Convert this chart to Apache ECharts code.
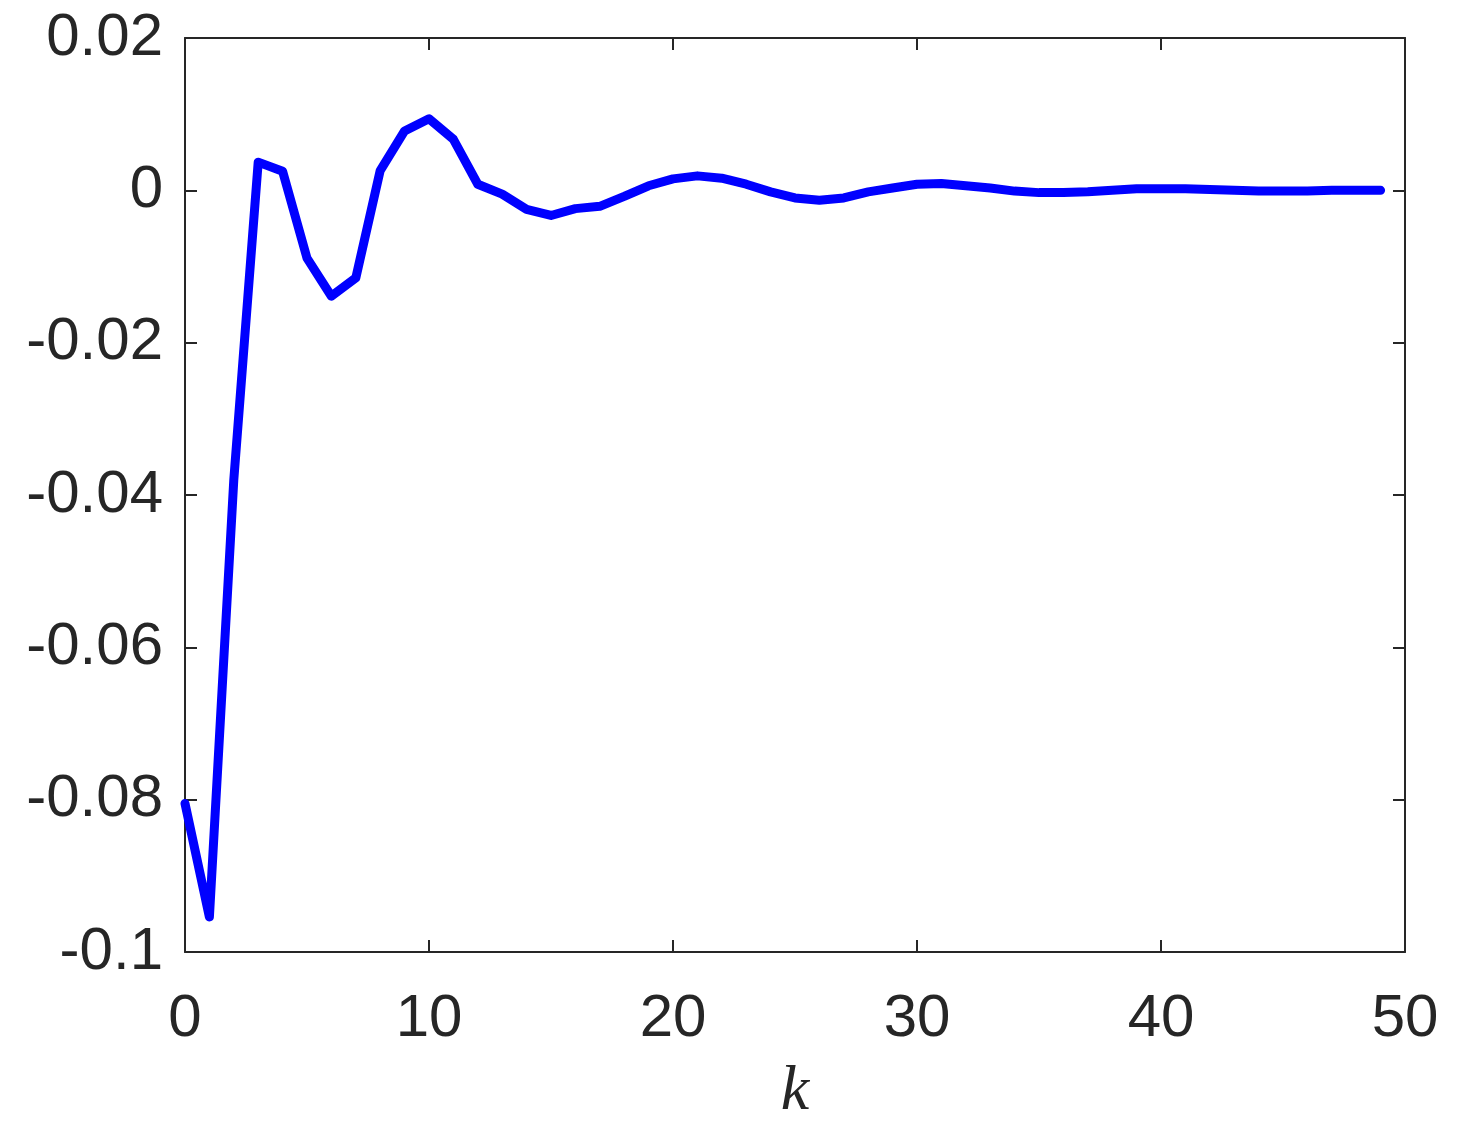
<!DOCTYPE html>
<html>
<head>
<meta charset="utf-8">
<script src="https://cdn.jsdelivr.net/npm/echarts@6/dist/echarts.min.js"></script>
<style>
html,body{margin:0;padding:0;background:#fff;}
#c{width:1457px;height:1124px;}
</style>
</head>
<body>
<div id="c"></div>
<script>
const kValues = [0,1,2,3,4,5,6,7,8,9,10,11,12,13,14,15,16,17,18,19,20,21,22,23,24,25,26,27,28,29,30,31,32,33,34,35,36,37,38,39,40,41,42,43,44,45,46,47,48,49];
const yValues = [-0.0805,-0.0954,-0.0380,0.0037,0.0025,-0.0089,-0.0139,-0.0115,0.0026,0.0078,
  0.0094,0.0067,0.0008,-0.0005,-0.0025,-0.0033,-0.0024,-0.0021,-0.0008,0.0006,
  0.0015,0.0019,0.0016,0.0008,-0.0002,-0.0010,-0.0013,-0.0010,-0.0002,0.0003,
  0.0008,0.0009,0.0006,0.0003,-0.0001,-0.0003,-0.0003,-0.0002,0.0000,0.0002,
  0.0002,0.0002,0.0001,0.0000,-0.0001,-0.0001,-0.0001,0.0000,0.0000,0.0000];
const xTicks = [0,10,20,30,40,50];
const yTicks = [-0.1,-0.08,-0.06,-0.04,-0.02,0,0.02];

const axisColor = '#262626';
const fontFam = '"Liberation Sans", Arial, Helvetica, sans-serif';
const chart = echarts.init(document.getElementById('c'));
const lineStyle = {color: axisColor, width: 2};
const tick = {show: true, inside: true, length: 12, lineStyle: {color: axisColor, width: 2}};
chart.setOption({
  animation: false,
  backgroundColor: '#fff',
  grid: {left: 185, right: 52, top: 38, bottom: 172, containLabel: false, outerBoundsMode: 'none'},
  xAxis: [{
    type: 'value', min: 0, max: 50, interval: 10,
    name: 'k', nameLocation: 'middle', nameGap: 108,
    nameTextStyle: {fontFamily: '"Liberation Serif", "DejaVu Serif", serif', fontStyle: 'italic', fontSize: 64, color: axisColor},
    axisLine: {show: true, onZero: false, lineStyle},
    axisTick: tick,
    axisLabel: {fontSize: 60, color: axisColor, fontFamily: fontFam, margin: 37,
      formatter: v => xTicks.includes(v) ? String(v) : ''},
    splitLine: {show: false}
  }, {
    type: 'value', min: 0, max: 50, interval: 10, position: 'top',
    axisLine: {show: true, onZero: false, lineStyle},
    axisTick: tick, axisLabel: {show: false}, splitLine: {show: false}
  }],
  yAxis: [{
    type: 'value', min: -0.1, max: 0.02, interval: 0.02,
    axisLine: {show: true, onZero: false, lineStyle},
    axisTick: tick,
    axisLabel: {fontSize: 60, color: axisColor, fontFamily: fontFam, margin: 22,
      formatter: v => {
        const t = yTicks.find(a => Math.abs(a - v) < 1e-9);
        if (t === undefined) return '';
        if (Math.abs(t) < 1e-12) return '0';
        return String(+t.toFixed(2));
      }},
    splitLine: {show: false}
  }, {
    type: 'value', min: -0.1, max: 0.02, interval: 0.02, position: 'right',
    axisLine: {show: true, onZero: false, lineStyle},
    axisTick: tick, axisLabel: {show: false}, splitLine: {show: false}
  }],
  series: [{
    type: 'line',
    data: kValues.map((k, i) => [k, yValues[i]]),
    showSymbol: false,
    lineStyle: {color: '#0000ff', width: 9, join: 'round', cap: 'round'},
    clip: false
  }]
});
</script>
</body>
</html>
